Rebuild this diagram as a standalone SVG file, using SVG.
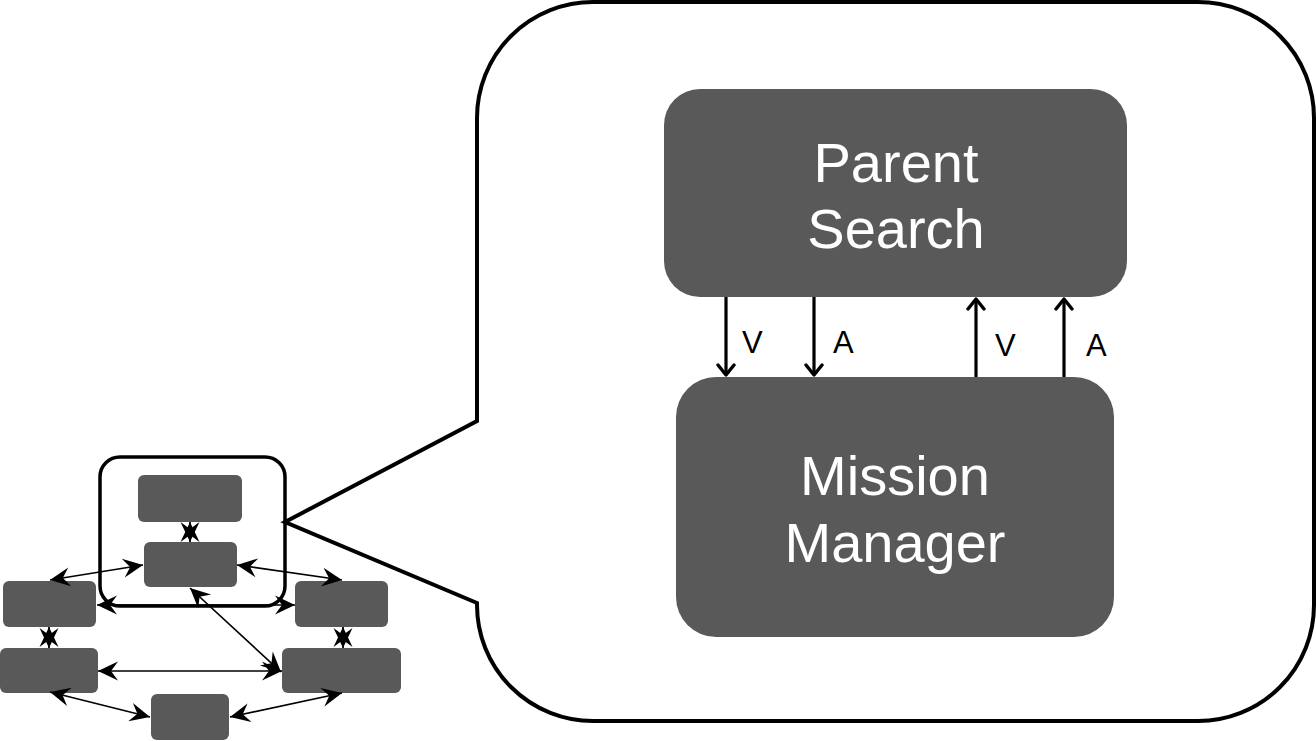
<svg xmlns="http://www.w3.org/2000/svg" width="1316" height="741" viewBox="0 0 1316 741">
  <style>
    .node { fill: #595959; }
    .big-label { font-family: "Liberation Sans", Arial, sans-serif; font-size: 56px; fill: #ffffff; text-anchor: middle; }
    .edge-label { font-family: "Liberation Sans", Arial, sans-serif; font-size: 31px; fill: #000000; }
    .thin { stroke: #000; stroke-width: 1.7; fill: none; marker-start: url(#stealth); marker-end: url(#stealth); }
    .thick { stroke: #000; stroke-width: 3.2; fill: none; marker-end: url(#chevron); }
  </style>
  <defs>
    <marker id="stealth" viewBox="-21 -11 22 22" refX="0" refY="0" markerWidth="22" markerHeight="22" markerUnits="userSpaceOnUse" orient="auto-start-reverse">
      <path d="M0,0 L-20,-9.5 L-13,0 L-20,9.5 Z" fill="#000"/>
    </marker>
    <marker id="chevron" viewBox="-13 -11 15 22" refX="0" refY="0" markerWidth="15" markerHeight="22" markerUnits="userSpaceOnUse" orient="auto">
      <path d="M-10,-8 L0,0 L-10,8" fill="none" stroke="#000" stroke-width="3.4" stroke-linecap="round" stroke-linejoin="round"/>
    </marker>
  </defs>

  <rect width="1316" height="741" fill="#ffffff"/>

  <!-- callout -->
  <g id="callout">
    <path d="M 593,2 H 1198 A 116 116 0 0 1 1314 118 V 605 A 116 116 0 0 1 1198 721 H 593 A 116 116 0 0 1 477 605 V 603 L 285 522 L 477 421 V 118 A 116 116 0 0 1 593 2 Z" fill="#ffffff" stroke="#000" stroke-width="4" stroke-linejoin="miter"/>
    <rect x="100" y="457" width="185" height="149" rx="20" ry="20" fill="none" stroke="#000" stroke-width="3.5"/>
  </g>

  <!-- small overview nodes -->
  <g id="mini-top"><rect class="node" x="138" y="475" width="104" height="47" rx="6"/></g>
  <g id="mini-mid"><rect class="node" x="144" y="542" width="93" height="45" rx="6"/></g>
  <g id="mini-left-upper"><rect class="node" x="3" y="581" width="93" height="46" rx="6"/></g>
  <g id="mini-right-upper"><rect class="node" x="295" y="581" width="93" height="46" rx="6"/></g>
  <g id="mini-left-lower"><rect class="node" x="0" y="648" width="98" height="45" rx="6"/></g>
  <g id="mini-right-lower"><rect class="node" x="282" y="648" width="119" height="45" rx="6"/></g>
  <g id="mini-bottom"><rect class="node" x="151" y="694" width="78" height="46" rx="6"/></g>

  <!-- main nodes -->
  <g id="parent-search">
    <rect class="node" x="664" y="89" width="463" height="208" rx="36"/>
    <text class="big-label" x="896" y="182">Parent</text>
    <text class="big-label" x="896" y="248">Search</text>
  </g>
  <g id="mission-manager">
    <rect class="node" x="676" y="377" width="438" height="260" rx="40"/>
    <text class="big-label" x="895" y="495">Mission</text>
    <text class="big-label" x="895" y="562">Manager</text>
  </g>

  <!-- connectors -->
  <g id="connectors">
    <line class="thin" x1="190" y1="522" x2="190" y2="542"/>
    <line class="thin" x1="50" y1="580" x2="143" y2="565"/>
    <line class="thin" x1="237" y1="565" x2="342" y2="580"/>
    <line class="thin" x1="97" y1="605" x2="295" y2="605"/>
    <line class="thin" x1="190" y1="588" x2="281" y2="672"/>
    <line class="thin" x1="49" y1="627" x2="49" y2="648"/>
    <line class="thin" x1="343" y1="627" x2="343" y2="648"/>
    <line class="thin" x1="98" y1="671" x2="282" y2="671"/>
    <line class="thin" x1="50" y1="692" x2="150" y2="717"/>
    <line class="thin" x1="230" y1="717" x2="342" y2="693"/>

    <line class="thick" x1="726" y1="297" x2="726" y2="375"/>
    <line class="thick" x1="814" y1="297" x2="814" y2="375"/>
    <line class="thick" x1="976" y1="377" x2="976" y2="299"/>
    <line class="thick" x1="1064" y1="377" x2="1064" y2="299"/>

    <text class="edge-label" x="742" y="353">V</text>
    <text class="edge-label" x="833" y="353">A</text>
    <text class="edge-label" x="995" y="356">V</text>
    <text class="edge-label" x="1086" y="356">A</text>
  </g>
</svg>
